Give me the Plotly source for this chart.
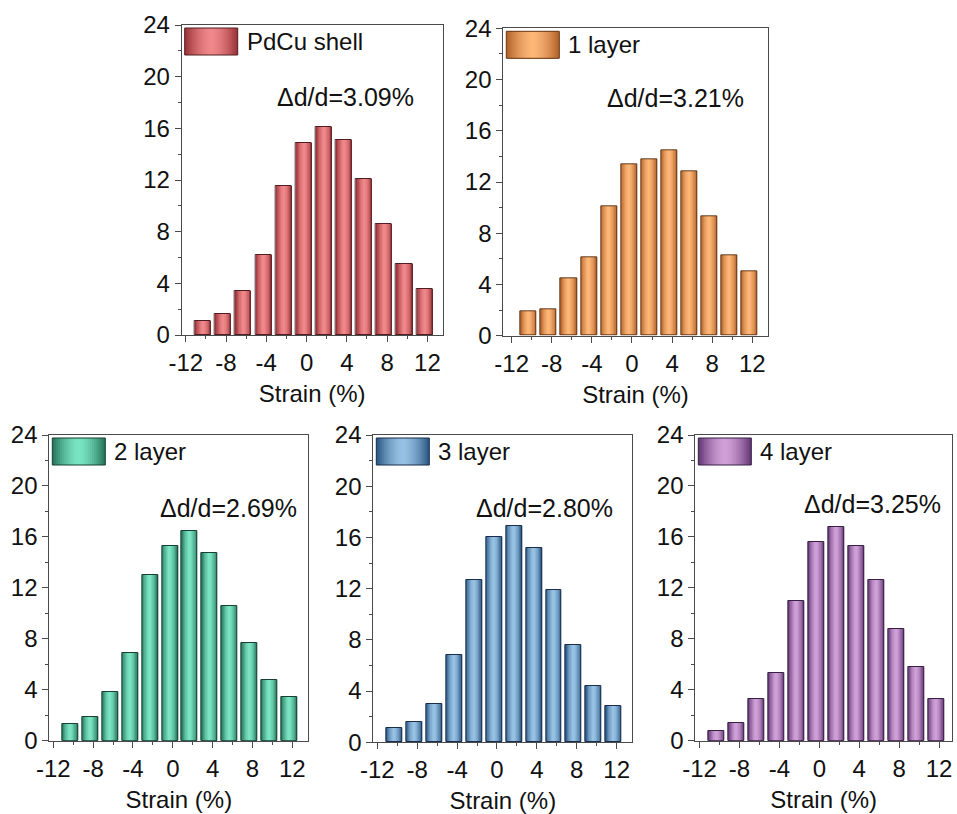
import plotly.graph_objects as go

# ---- data: strain histograms (counts per 2 % bin) ----
strain_bins = [-10.3, -8.3, -6.3, -4.3, -2.3, -0.3, 1.7, 3.7, 5.7, 7.7, 9.7, 11.7]
pdcu_shell = [1.1, 1.6, 3.4, 6.2, 11.5, 14.9, 16.1, 15.1, 12.1, 8.6, 5.5, 3.6]
layer_1 = [1.9, 2.1, 4.5, 6.1, 10.1, 13.4, 13.8, 14.5, 12.8, 9.3, 6.3, 5.0]
layer_2 = [1.3, 1.9, 3.8, 6.9, 13.0, 15.3, 16.5, 14.7, 10.6, 7.7, 4.8, 3.4]
layer_3 = [1.1, 1.6, 3.0, 6.8, 12.7, 16.0, 16.9, 15.2, 11.9, 7.6, 4.4, 2.8]
layer_4 = [0.8, 1.4, 3.3, 5.3, 11.0, 15.6, 16.8, 15.3, 12.6, 8.8, 5.8, 3.3]

series_names = ["PdCu shell", "1 layer", "2 layer", "3 layer", "4 layer"]
series_values = [pdcu_shell, layer_1, layer_2, layer_3, layer_4]
strain_ratio = ["3.09", "3.21", "2.69", "2.80", "3.25"]

x_ticks = [-12, -8, -4, 0, 4, 8, 12]
x_tick_labels = ["-12", "-8", "-4", "0", "4", "8", "12"]
y_ticks = [0, 4, 8, 12, 16, 20, 24]
y_tick_labels = ["0", "4", "8", "12", "16", "20", "24"]

# ---- styling ----
W, H = 957, 814
FONT = "Liberation Sans, Arial, sans-serif"
BAR_WIDTH = 1.6
N_SHADE = 14

# (dark edge, light centre, outline) per series
palette = [
    ((150, 48, 54), (240, 136, 138), (80, 30, 34)),
    ((176, 94, 38), (252, 182, 118), (100, 56, 24)),
    ((34, 112, 86), (122, 228, 194), (22, 64, 50)),
    ((38, 82, 128), (152, 194, 228), (24, 46, 74)),
    ((96, 52, 114), (208, 160, 216), (56, 32, 68)),
]

# panel frames in pixels: left, top, right, bottom
frames = [
    (181.7, 25.0, 442.7, 335.0),
    (503.3, 28.3, 767.7, 335.7),
    (49.3, 435.0, 308.3, 740.7),
    (373.3, 435.0, 632.3, 742.3),
    (695.3, 435.0, 952.0, 740.7),
]
x_ranges = [
    [-12.4, 13.52],
    [-12.83, 13.53],
    [-12.4, 13.6],
    [-12.4, 13.57],
    [-12.43, 13.3],
]
# where the strain label sits (data coords)
ratio_pos = [(3.85, 18.4), (4.37, 18.56), (5.58, 18.24), (4.74, 18.3), (5.3, 18.6)]


def mix(c1, c2, t):
    return "rgb(%d,%d,%d)" % tuple(round(a + (b - a) * t) for a, b in zip(c1, c2))


def shade_t(i):
    # cylinder-like profile: dark rim, bright centre
    u = 1 - (i + 0.5) / N_SHADE
    return 1 - u ** 1.6


fig = go.Figure()
shapes = []
annotations = []

for k, (name, vals, (dark, light, edge), fr, xr, rp, ratio) in enumerate(
    zip(series_names, series_values, palette, frames, x_ranges, ratio_pos, strain_ratio)
):
    sfx = "" if k == 0 else str(k + 1)
    xa, ya = "x" + sfx, "y" + sfx

    # shaded bars: nested overlays, narrower = lighter
    for i in range(N_SHADE):
        fig.add_trace(go.Bar(
            x=strain_bins, y=vals,
            width=BAR_WIDTH * (1 - i / N_SHADE),
            marker=dict(color=mix(dark, light, shade_t(i)), line=dict(width=0)),
            xaxis=xa, yaxis=ya, showlegend=False, hoverinfo="skip",
        ))
    # bar outlines
    fig.add_trace(go.Bar(
        x=strain_bins, y=vals, width=BAR_WIDTH, name=name,
        marker=dict(color="rgba(0,0,0,0)", line=dict(color=mix(edge, edge, 0), width=1)),
        xaxis=xa, yaxis=ya, showlegend=False,
    ))

    left, top, right, bottom = fr
    pw, ph = right - left, bottom - top

    axis_common = dict(
        showline=True, linecolor="#4a4a4a", linewidth=1, mirror=True,
        showgrid=False, zeroline=False, ticks="outside", ticklen=6,
        tickwidth=1, tickcolor="#4a4a4a", automargin=False,
        tickfont=dict(family=FONT, size=24, color="#111"),
    )
    fig.update_layout({
        "xaxis" + sfx: dict(
            axis_common,
            domain=[left / W, right / W], anchor=ya, range=xr,
            tickmode="array", tickvals=x_ticks, ticktext=x_tick_labels,
            minor=dict(ticks="outside", ticklen=3, tickvals=[-10, -6, -2, 2, 6, 10],
                       tickcolor="#4a4a4a"),
            title=dict(text="Strain (%)", standoff=10,
                       font=dict(family=FONT, size=24, color="#111")),
        ),
        "yaxis" + sfx: dict(
            axis_common,
            domain=[1 - bottom / H, 1 - top / H], anchor=xa, range=[0, 24],
            tickmode="array", tickvals=y_ticks, ticktext=y_tick_labels,
            minor=dict(ticks="outside", ticklen=3, tickvals=[2, 6, 10, 14, 18, 22],
                       tickcolor="#4a4a4a"),
        ),
    })

    # legend swatch (gradient rectangle) inside the frame, top-left
    sx0, sx1 = 3 / pw, 56 / pw
    sy0, sy1 = 1 - 30 / ph, 1 - 3 / ph
    cx, half = (sx0 + sx1) / 2, (sx1 - sx0) / 2
    dref = dict(xref=xa + " domain", yref=ya + " domain")
    for i in range(N_SHADE):
        f = 1 - i / N_SHADE
        shapes.append(dict(
            type="rect", x0=cx - half * f, x1=cx + half * f, y0=sy0, y1=sy1,
            fillcolor=mix(dark, light, shade_t(i)), line=dict(width=0), **dref,
        ))
    shapes.append(dict(
        type="rect", x0=sx0, x1=sx1, y0=sy0, y1=sy1,
        fillcolor="rgba(0,0,0,0)", line=dict(color=mix(edge, edge, 0), width=1), **dref,
    ))
    annotations.append(dict(
        text=name, x=63 / pw, y=(sy0 + sy1) / 2, xanchor="left", yanchor="middle",
        showarrow=False, font=dict(family=FONT, size=24, color="#111"), **dref,
    ))
    annotations.append(dict(
        text="\u0394d/d=%s%%" % ratio, x=rp[0], y=rp[1], xref=xa, yref=ya,
        xanchor="center", yanchor="middle", showarrow=False,
        font=dict(family=FONT, size=25, color="#111"),
    ))

fig.update_layout(
    width=W, height=H, margin=dict(l=0, r=0, t=0, b=0),
    paper_bgcolor="white", plot_bgcolor="white",
    barmode="overlay", bargap=0,
    shapes=shapes, annotations=annotations,
    showlegend=False,
)

fig.write_html("out.html")
